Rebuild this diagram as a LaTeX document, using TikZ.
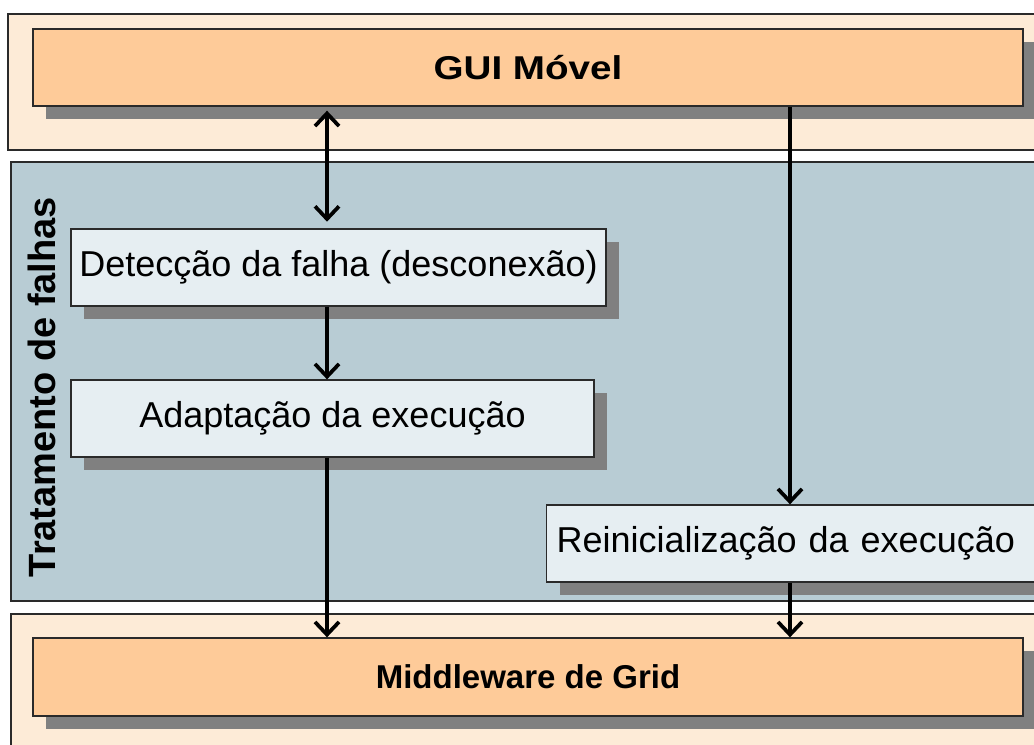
\documentclass[tikz,border=0pt]{standalone}
\usepackage{fontspec}
\setmainfont{Liberation Sans}
\newfontfamily\widesans[FakeStretch=1.17]{Liberation Sans}
\usetikzlibrary{arrows.meta,shadows}
\definecolor{peachpanel}{HTML}{FDEBD7}
\definecolor{peachbox}{HTML}{FECB99}
\definecolor{bluepanel}{HTML}{B8CCD4}
\definecolor{palebox}{HTML}{E6EEF2}
\definecolor{shadowgray}{HTML}{808080}
\definecolor{edgegray}{HTML}{2A2A2A}
\begin{document}
\begin{tikzpicture}[x=0.75pt,y=-0.75pt,
	panel/.style={draw=edgegray,line width=1pt},
	layerbox/.style={draw=edgegray,line width=1pt,fill=peachbox,minimum width=742.5pt,minimum height=57.75pt,inner sep=0pt,
		font=\fontsize{24.75}{30}\selectfont\bfseries,general shadow={fill=shadowgray,shadow xshift=9.75pt,shadow yshift=-9.75pt}},
	stepbox/.style={draw=edgegray,line width=1pt,fill=palebox,minimum height=57.75pt,inner sep=0pt,
		font=\fontsize{27}{32}\selectfont,general shadow={fill=shadowgray,shadow xshift=9.75pt,shadow yshift=-9.75pt}},
	flow/.style={line width=2.8pt,>={Straight Barb[length=9.5pt,width=18pt]},->}]
	\useasboundingbox (0,0) rectangle (1034,744);
	\clip (0,0) rectangle (1034,744);
	% layers
	\draw[panel,fill=peachpanel] (8,14) rectangle (1045,150);
	\draw[panel,fill=bluepanel] (11,162) rectangle (1045,601);
	\draw[panel,fill=peachpanel] (11,614) rectangle (1045,760);
	\node[rotate=90,font=\fontsize{28.5}{34}\selectfont\bfseries] (fault) at (42,387) {Tratamento de falhas};
	% boxes
	\node[layerbox,font=\fontsize{24.75}{30}\widesans\bfseries] (gui) at (528,67.5) {GUI Móvel};
	\node[stepbox,minimum width=401.25pt] (detect) at (338.5,267.5) {Detecção da falha (desconexão)};
	\node[stepbox,minimum width=392.25pt] (adapt) at (332.5,418.5) {Adaptação da execução};
	\node[stepbox,anchor=west,text width=360pt,align=left,inner xsep=7.5pt] (reinit) at (546,543.5) {Reinicialização da execução};
	\node[layerbox,minimum height=58.5pt] (midw) at (528,677) {Middleware de Grid};
	% arrows
	\coordinate (lx) at (327,0);
	\coordinate (rx) at (790,0);
	\draw[flow,<->,shorten <=3pt,shorten >=5pt] (gui.south -| lx) -- (detect.north -| lx);
	\draw[flow] (detect.south -| lx) -- (adapt.north -| lx);
	\draw[flow] (adapt.south -| lx) -- (midw.north -| lx);
	\draw[flow] (gui.south -| rx) -- (reinit.north -| rx);
	\draw[flow] (reinit.south -| rx) -- (midw.north -| rx);
\end{tikzpicture}
\end{document}
